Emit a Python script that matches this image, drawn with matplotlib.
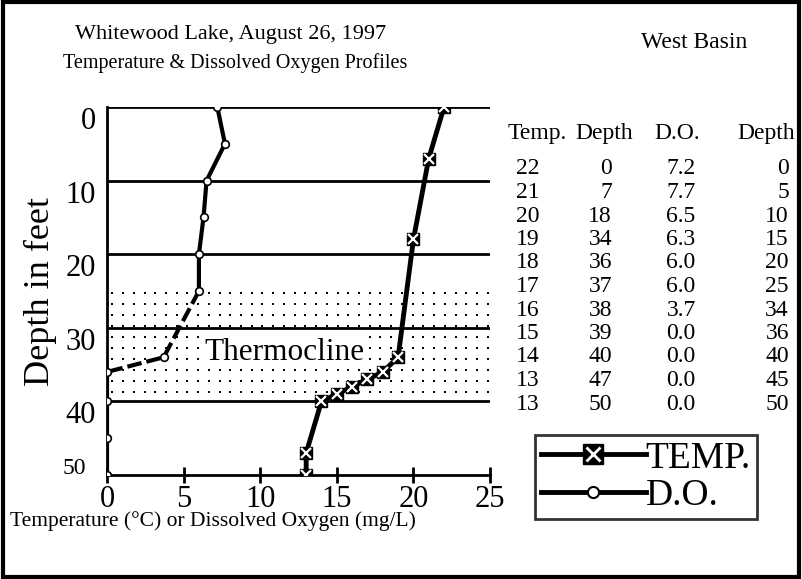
import numpy as np
import matplotlib.pyplot as plt
from matplotlib.patches import Rectangle
from matplotlib.lines import Line2D
from matplotlib.legend_handler import HandlerTuple

plt.rcParams['font.family'] = ['Liberation Serif', 'DejaVu Serif']

# Profile data
temp = [22, 21, 20, 19, 18, 17, 16, 15, 14, 13, 13]
temp_depth = [0, 7, 18, 34, 36, 37, 38, 39, 40, 47, 50]
do = [7.2, 7.7, 6.5, 6.3, 6.0, 6.0, 3.7, 0.0, 0.0, 0.0, 0.0]
do_depth = [0, 5, 10, 15, 20, 25, 34, 36, 40, 45, 50]
thermocline = (25, 40)

fig = plt.figure(figsize=(8.02, 5.79), dpi=100)
ax = fig.add_axes([0.1334, 0.1796, 0.611 - 0.1334, 0.8152 - 0.1796])

# thermocline band: dotted texture
gx, gy = np.meshgrid(np.arange(0.35, 25, 0.7), np.arange(thermocline[0] + 0.25, thermocline[1], 1.5))
ax.scatter(gx.ravel(), gy.ravel(), s=2, marker='s', color='black', lw=0, zorder=1)

for d in [0, 10, 20, 30, 40]:
    ax.plot([0, 25], [d, d], color='black', lw=2, zorder=2)

ax.text(11.6, 33.3, 'Thermocline', fontsize=22.5, ha='center', va='center', zorder=3,
        bbox=dict(facecolor='white', edgecolor='none', pad=1))

# D.O. profile (broken line where it crosses the thermocline)
ax.plot(do[:6], do_depth[:6], color='black', lw=3, zorder=4)
ax.plot(do[5:8], do_depth[5:8], color='black', lw=3, dashes=(3.5, 1.2), zorder=4)
ax.plot(do[7:], do_depth[7:], color='black', lw=3, zorder=4)
ax.plot(do, do_depth, ls='none', marker='o', ms=5.5, mfc='white', mec='black', mew=1.2, zorder=5)

# temperature profile
ax.plot(temp, temp_depth, color='black', lw=3.5, zorder=4)
ax.plot(temp, temp_depth, ls='none', marker='s', ms=9, mfc='black', mec='black', zorder=5)
ax.plot(temp, temp_depth, ls='none', marker='x', ms=6.5, mec='white', mew=1.6, zorder=6)

ax.set_xlim(0, 25)
ax.set_ylim(50, 0)
ax.set_xticks([0, 5, 10, 15, 20, 25])
ax.set_yticks([0, 10, 20, 30, 40, 50])
ax.set_xticklabels(['0', '5', '10', '15', '20', '25'], fontsize=22)
ax.set_yticklabels(['0', '10', '20', '30', '40', ''], fontsize=22, va='top')
ax.tick_params(axis='x', direction='inout', length=12, width=2, pad=1)
ax.tick_params(axis='y', length=0, pad=8)
for s in ['top', 'right']:
    ax.spines[s].set_visible(False)
ax.spines['left'].set_linewidth(2)
ax.spines['bottom'].set_linewidth(2)
ax.patch.set_alpha(0)

fig.text(74 / 802, 1 - 468 / 579, '50', fontsize=17, ha='center', va='center')
ax.set_ylabel('Depth in feet', fontsize=26, labelpad=6)
fig.text(10 / 802, 1 - 521 / 579, 'Temperature (°C) or Dissolved Oxygen (mg/L)', fontsize=15.5,
         ha='left', va='center')

fig.text(231 / 802, 1 - 35 / 579, 'Whitewood Lake, August 26, 1997', fontsize=16, ha='center', va='center')
fig.text(694 / 802, 1 - 42 / 579, 'West Basin', fontsize=17, ha='center', va='center')
fig.text(235 / 802, 1 - 63 / 579, 'Temperature & Dissolved Oxygen Profiles', fontsize=14.5, ha='center', va='center')

# data table on the right
headers = ['Temp.', 'Depth', 'D.O.', 'Depth']
header_x = [537, 604, 677, 766]
for h, hx in zip(headers, header_x):
    fig.text(hx / 802, 1 - 139 / 579, h, fontsize=17, ha='center', va='baseline')
for i in range(len(temp)):
    y = 1 - (169 + i * 23.5) / 579
    fig.text(528 / 802, y, str(temp[i]), fontsize=17, ha='center', va='center')
    fig.text(612 / 802, y, str(temp_depth[i]), fontsize=17, ha='right', va='center')
    fig.text(681 / 802, y, f'{do[i]:.1f}', fontsize=17, ha='center', va='center')
    fig.text(789 / 802, y, str(do_depth[i]), fontsize=17, ha='right', va='center')

h_temp = (Line2D([], [], color='black', lw=3.5, marker='s', ms=15, mfc='black', mec='black'),
          Line2D([], [], ls='none', marker='x', ms=10, mec='white', mew=2))
h_do = Line2D([], [], color='black', lw=3.5, marker='o', ms=8, mfc='white', mec='black', mew=1.5)
leg = fig.legend([h_temp, h_do], ['TEMP.', 'D.O.'], handler_map={tuple: HandlerTuple(ndivide=1, pad=0)},
                 loc='lower left', bbox_to_anchor=(535 / 802, 1 - 519 / 579), fontsize=27,
                 handlelength=2.8, handletextpad=0.0, borderpad=0.15, labelspacing=0.05,
                 borderaxespad=0, fancybox=False, handleheight=0.8)
leg.get_frame().set_edgecolor('black')
leg.get_frame().set_linewidth(2)

fig.patches.append(Rectangle((0.004, 0.004), 0.992, 0.992, transform=fig.transFigure,
                             fill=False, edgecolor='black', lw=3))

fig.savefig('out.png', dpi=100)
